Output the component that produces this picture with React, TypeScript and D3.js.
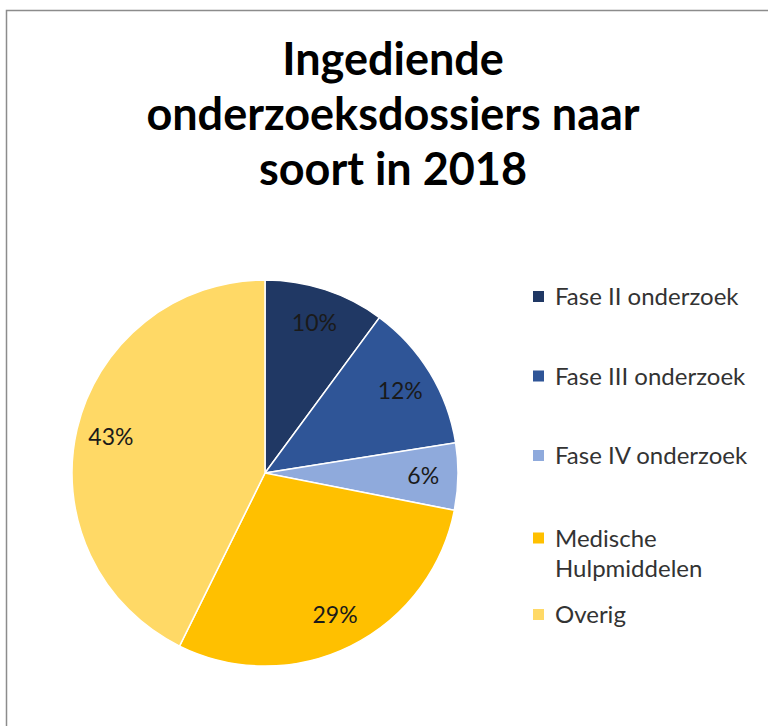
import * as d3 from "d3";

const categories = [
  "Fase II onderzoek",
  "Fase III onderzoek",
  "Fase IV onderzoek",
  "Medische Hulpmiddelen",
  "Overig",
];
const shares = [10.1, 12.4, 5.6, 29.2, 42.7];
const legendLines = [
  ["Fase II onderzoek"],
  ["Fase III onderzoek"],
  ["Fase IV onderzoek"],
  ["Medische", "Hulpmiddelen"],
  ["Overig"],
];
const colors = ["#203864", "#2f5597", "#8faadc", "#ffc000", "#ffd966"];
const titleLines = ["Ingediende", "onderzoeksdossiers naar", "soort in 2018"];

const W = 768;
const H = 726;
const font = "Lato, 'Open Sans', sans-serif";

export default function App() {
  const cx = 265;
  const cy = 473;
  const r = 193;

  const pie = d3
    .pie<number>()
    .sort(null)
    .value((d) => d);
  const arcs = pie(shares);
  const arc = d3.arc<d3.PieArcDatum<number>>().innerRadius(0).outerRadius(r);
  const labelArc = d3
    .arc<d3.PieArcDatum<number>>()
    .innerRadius(r * 0.82)
    .outerRadius(r * 0.82);
  const total = d3.sum(shares);

  // legend rows, baselines of first line
  const legendY = d3
    .scalePoint<string>()
    .domain(categories)
    .range([305, 623]);

  return (
    <svg
      width={W}
      height={H}
      style={{ position: "absolute", left: 0, top: 0, display: "block", background: "#fff" }}
    >
      <rect x={6.5} y={10.5} width={W + 20} height={H + 20} fill="#fff" stroke="#8c8c8c" strokeWidth={1.5} />

      <g fontFamily={font} fontWeight="bold" fontSize={45} fill="#000" textAnchor="middle">
        {titleLines.map((t, i) => (
          <text key={t} x={393} y={75 + i * 55}>
            {t}
          </text>
        ))}
      </g>

      <g transform={`translate(${cx},${cy})`}>
        {arcs.map((a, i) => (
          <path key={categories[i]} d={arc(a) || ""} fill={colors[i]} stroke="#fff" strokeWidth={1.5} />
        ))}
        {arcs.map((a, i) => {
          const [x, y] = labelArc.centroid(a);
          return (
            <text
              key={"l" + i}
              x={x}
              y={y}
              dy="0.35em"
              textAnchor="middle"
              fontFamily={font}
              fontSize={23}
              fill="#1a1a1a"
            >
              {Math.round((shares[i] / total) * 100)}%
            </text>
          );
        })}
      </g>

      <g fontFamily={font} fontSize={24} fill="#333">
        {categories.map((c, i) => {
          const y = legendY(c) || 0;
          const lines = legendLines[i];
          const y0 = lines.length > 1 ? y + 3 : y;
          return (
            <g key={c}>
              <rect x={533} y={y0 - 14} width={11} height={11} fill={colors[i]} />
              {lines.map((t, j) => (
                <text key={t} x={555} y={y0 + j * 30}>
                  {t}
                </text>
              ))}
            </g>
          );
        })}
      </g>
    </svg>
  );
}
